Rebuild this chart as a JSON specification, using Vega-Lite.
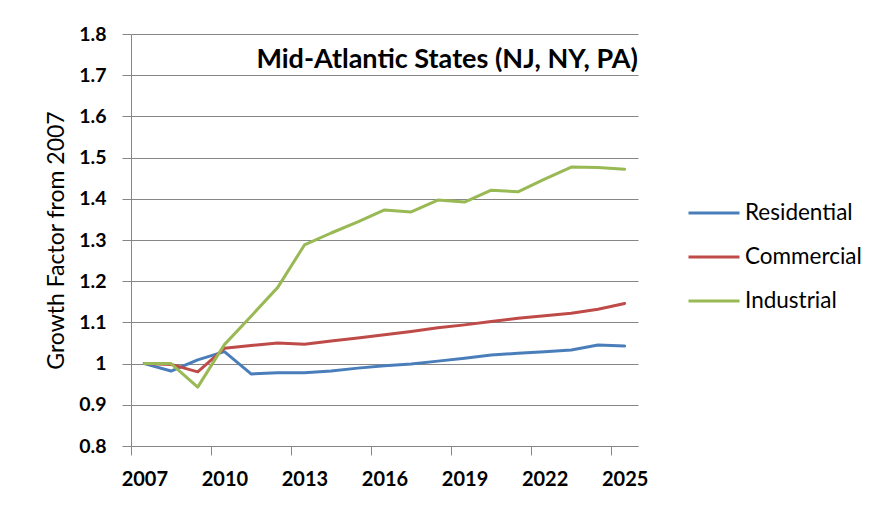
{
  "$schema": "https://vega.github.io/schema/vega-lite/v6.json",
  "autosize": "none",
  "width": 507,
  "height": 412,
  "padding": {"left": 131, "top": 34, "right": 232, "bottom": 60},
  "background": "white",
  "title": {"text": "Mid-Atlantic States (NJ, NY, PA)", "anchor": "end", "frame": "group", "offset": -50, "fontSize": 27, "font": "Lato", "fontWeight": "bold", "color": "black"},
  "data": {"values": [
    {"year": 2007, "series": "Residential", "value": 1.0},
    {"year": 2008, "series": "Residential", "value": 0.982},
    {"year": 2009, "series": "Residential", "value": 1.009},
    {"year": 2010, "series": "Residential", "value": 1.029},
    {"year": 2011, "series": "Residential", "value": 0.975},
    {"year": 2012, "series": "Residential", "value": 0.978},
    {"year": 2013, "series": "Residential", "value": 0.978},
    {"year": 2014, "series": "Residential", "value": 0.982},
    {"year": 2015, "series": "Residential", "value": 0.989},
    {"year": 2016, "series": "Residential", "value": 0.995},
    {"year": 2017, "series": "Residential", "value": 0.999},
    {"year": 2018, "series": "Residential", "value": 1.006},
    {"year": 2019, "series": "Residential", "value": 1.013},
    {"year": 2020, "series": "Residential", "value": 1.021},
    {"year": 2021, "series": "Residential", "value": 1.025},
    {"year": 2022, "series": "Residential", "value": 1.029},
    {"year": 2023, "series": "Residential", "value": 1.033},
    {"year": 2024, "series": "Residential", "value": 1.045},
    {"year": 2025, "series": "Residential", "value": 1.043},
    {"year": 2007, "series": "Commercial", "value": 1.0},
    {"year": 2008, "series": "Commercial", "value": 0.998},
    {"year": 2009, "series": "Commercial", "value": 0.98},
    {"year": 2010, "series": "Commercial", "value": 1.037},
    {"year": 2011, "series": "Commercial", "value": 1.044},
    {"year": 2012, "series": "Commercial", "value": 1.05},
    {"year": 2013, "series": "Commercial", "value": 1.047},
    {"year": 2014, "series": "Commercial", "value": 1.055},
    {"year": 2015, "series": "Commercial", "value": 1.062},
    {"year": 2016, "series": "Commercial", "value": 1.07},
    {"year": 2017, "series": "Commercial", "value": 1.078},
    {"year": 2018, "series": "Commercial", "value": 1.087},
    {"year": 2019, "series": "Commercial", "value": 1.094},
    {"year": 2020, "series": "Commercial", "value": 1.102},
    {"year": 2021, "series": "Commercial", "value": 1.11},
    {"year": 2022, "series": "Commercial", "value": 1.116},
    {"year": 2023, "series": "Commercial", "value": 1.122},
    {"year": 2024, "series": "Commercial", "value": 1.132},
    {"year": 2025, "series": "Commercial", "value": 1.146},
    {"year": 2007, "series": "Industrial", "value": 1.0},
    {"year": 2008, "series": "Industrial", "value": 1.0},
    {"year": 2009, "series": "Industrial", "value": 0.943},
    {"year": 2010, "series": "Industrial", "value": 1.046},
    {"year": 2011, "series": "Industrial", "value": 1.115},
    {"year": 2012, "series": "Industrial", "value": 1.185},
    {"year": 2013, "series": "Industrial", "value": 1.288},
    {"year": 2014, "series": "Industrial", "value": 1.317},
    {"year": 2015, "series": "Industrial", "value": 1.344},
    {"year": 2016, "series": "Industrial", "value": 1.373},
    {"year": 2017, "series": "Industrial", "value": 1.368},
    {"year": 2018, "series": "Industrial", "value": 1.397},
    {"year": 2019, "series": "Industrial", "value": 1.392},
    {"year": 2020, "series": "Industrial", "value": 1.421},
    {"year": 2021, "series": "Industrial", "value": 1.417},
    {"year": 2022, "series": "Industrial", "value": 1.448},
    {"year": 2023, "series": "Industrial", "value": 1.477},
    {"year": 2024, "series": "Industrial", "value": 1.476},
    {"year": 2025, "series": "Industrial", "value": 1.472}
  ]},
  "mark": {"type": "line", "strokeWidth": 3, "strokeJoin": "round", "strokeCap": "round"},
  "encoding": {
    "x": {"field": "year", "type": "quantitative",
      "scale": {"domain": [2006.5, 2025.5], "nice": false, "zero": false},
      "axis": {"values": [2007, 2010, 2013, 2016, 2019, 2022, 2025], "format": "d", "grid": false, "title": null,
        "tickOffset": -13.3, "labelOffset": 13.3, "tickSize": 9, "tickColor": "#868686", "domainColor": "#868686",
        "labelFont": "Lato", "labelFontSize": 20, "labelFontWeight": "bold", "labelColor": "black", "labelPadding": 14}},
    "y": {"field": "value", "type": "quantitative",
      "scale": {"domain": [0.8, 1.8], "nice": false, "zero": false},
      "axis": {"values": [0.8, 0.9, 1.0, 1.1, 1.2, 1.3, 1.4, 1.5, 1.6, 1.7, 1.8], "labelExpr": "datum.value == 1 ? '1' : format(datum.value, '.1f')",
        "title": "Growth Factor from 2007", "titleFont": "Lato", "titleFontSize": 23, "titleFontWeight": "normal", "titleColor": "black", "titlePadding": 10,
        "grid": true, "gridColor": "#868686", "gridOpacity": 1, "tickSize": 9, "tickColor": "#868686", "domainColor": "#868686",
        "labelFont": "Lato", "labelFontSize": 19.5, "labelFontWeight": "bold", "labelColor": "black", "labelPadding": 16}},
    "color": {"field": "series", "type": "nominal",
      "scale": {"domain": ["Residential", "Commercial", "Industrial"], "range": ["#4A7EBB", "#BE4B48", "#98B954"]},
      "legend": {"title": null, "orient": "none", "legendX": 556, "legendY": 152, "symbolType": "stroke", "symbolSize": 2601, "symbolStrokeWidth": 3,
        "labelFont": "Lato", "labelFontSize": 22.5, "labelColor": "black", "labelOffset": 4, "rowPadding": 5}}
  },
  "config": {"view": {"stroke": null}}
}
